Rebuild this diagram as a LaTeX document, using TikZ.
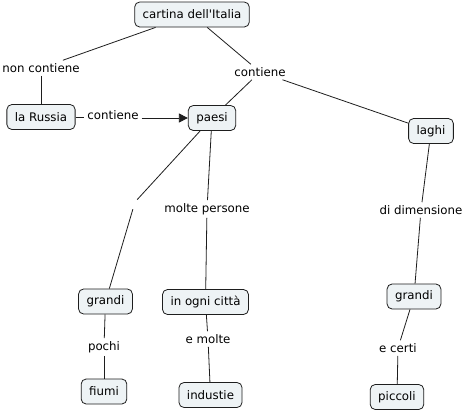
\documentclass[tikz,border=0pt]{standalone}
\usepackage{fontspec}
\setmainfont{DejaVu Sans}[Ligatures=TeXOff]
\usetikzlibrary{arrows.meta}
\definecolor{boxfill}{RGB}{238,243,245}
\definecolor{linecol}{RGB}{30,30,30}
\begin{document}
\begin{tikzpicture}[x=1pt,y=-1pt,
  concept/.style={draw=linecol, line width=0.8pt, fill=boxfill, rounded corners=5pt,
    inner xsep=8pt, inner ysep=3pt, minimum height=25pt, font=\fontsize{11.8}{13}\selectfont},
  linkph/.style={fill=white, inner sep=3pt, font=\fontsize{11.8}{13}\selectfont},
  conn/.style={draw=linecol, line width=0.8pt}]
\fill[white] (0,0) rectangle (467,413);
\useasboundingbox (0,0) rectangle (467,413);
% concepts
\node[concept] (cart) at (192,14.5) {cartina dell'Italia};
\node[concept] (russ) at (41,117) {la Russia};
\node[concept] (paesi) at (212,118) {paesi};
\node[concept] (laghi) at (431,131) {laghi};
\node[concept] (grL) at (105.5,301.5) {grandi};
\node[concept] (citta) at (205.5,302) {in ogni città};
\node[concept] (grR) at (414,296.5) {grandi};
\node[concept] (fiumi) at (104,391.5) {fiumi};
\node[concept] (indu) at (210.5,395) {industie};
\node[concept] (picc) at (397,397) {piccoli};
% linking phrases
\node[linkph] (l1) at (41,68) {non contiene};
\node[linkph] (l2) at (260,72) {contiene};
\node[linkph] (l3) at (113,115) {contiene};
\node[fill=white, inner sep=0pt, minimum width=4pt, minimum height=14pt] (l4) at (135,202) {};
\node[linkph] (l5) at (207,209) {molte persone};
\node[linkph] (l6) at (421,210) {di dimensione};
\node[linkph] (l7) at (104,347) {pochi};
\node[linkph] (l8) at (208,339) {e molte};
\node[linkph] (l9) at (398,348) {e certi};
% connectors
\draw[conn] (cart) -- (l1);
\draw[conn] (l1) -- (russ);
\draw[conn] (cart) -- (l2);
\draw[conn] (l2) -- (paesi);
\draw[conn] (l2) -- (laghi);
\draw[conn] (russ.east) -- (l3.west |- russ.east);
\draw[conn,-{Triangle[length=9pt,width=9pt]}] (l3.east |- paesi.west) -- (paesi.west);
\draw[conn] (paesi) -- (l4);
\draw[conn] (l4) -- (grL);
\draw[conn] (paesi) -- (l5);
\draw[conn] (l5) -- (citta);
\draw[conn] (laghi) -- (l6);
\draw[conn] (l6) -- (grR);
\draw[conn] (grL) -- (l7);
\draw[conn] (l7) -- (fiumi);
\draw[conn] (citta) -- (l8);
\draw[conn] (l8) -- (indu);
\draw[conn] (grR) -- (l9);
\draw[conn] (l9) -- (picc);
\end{tikzpicture}
\end{document}
